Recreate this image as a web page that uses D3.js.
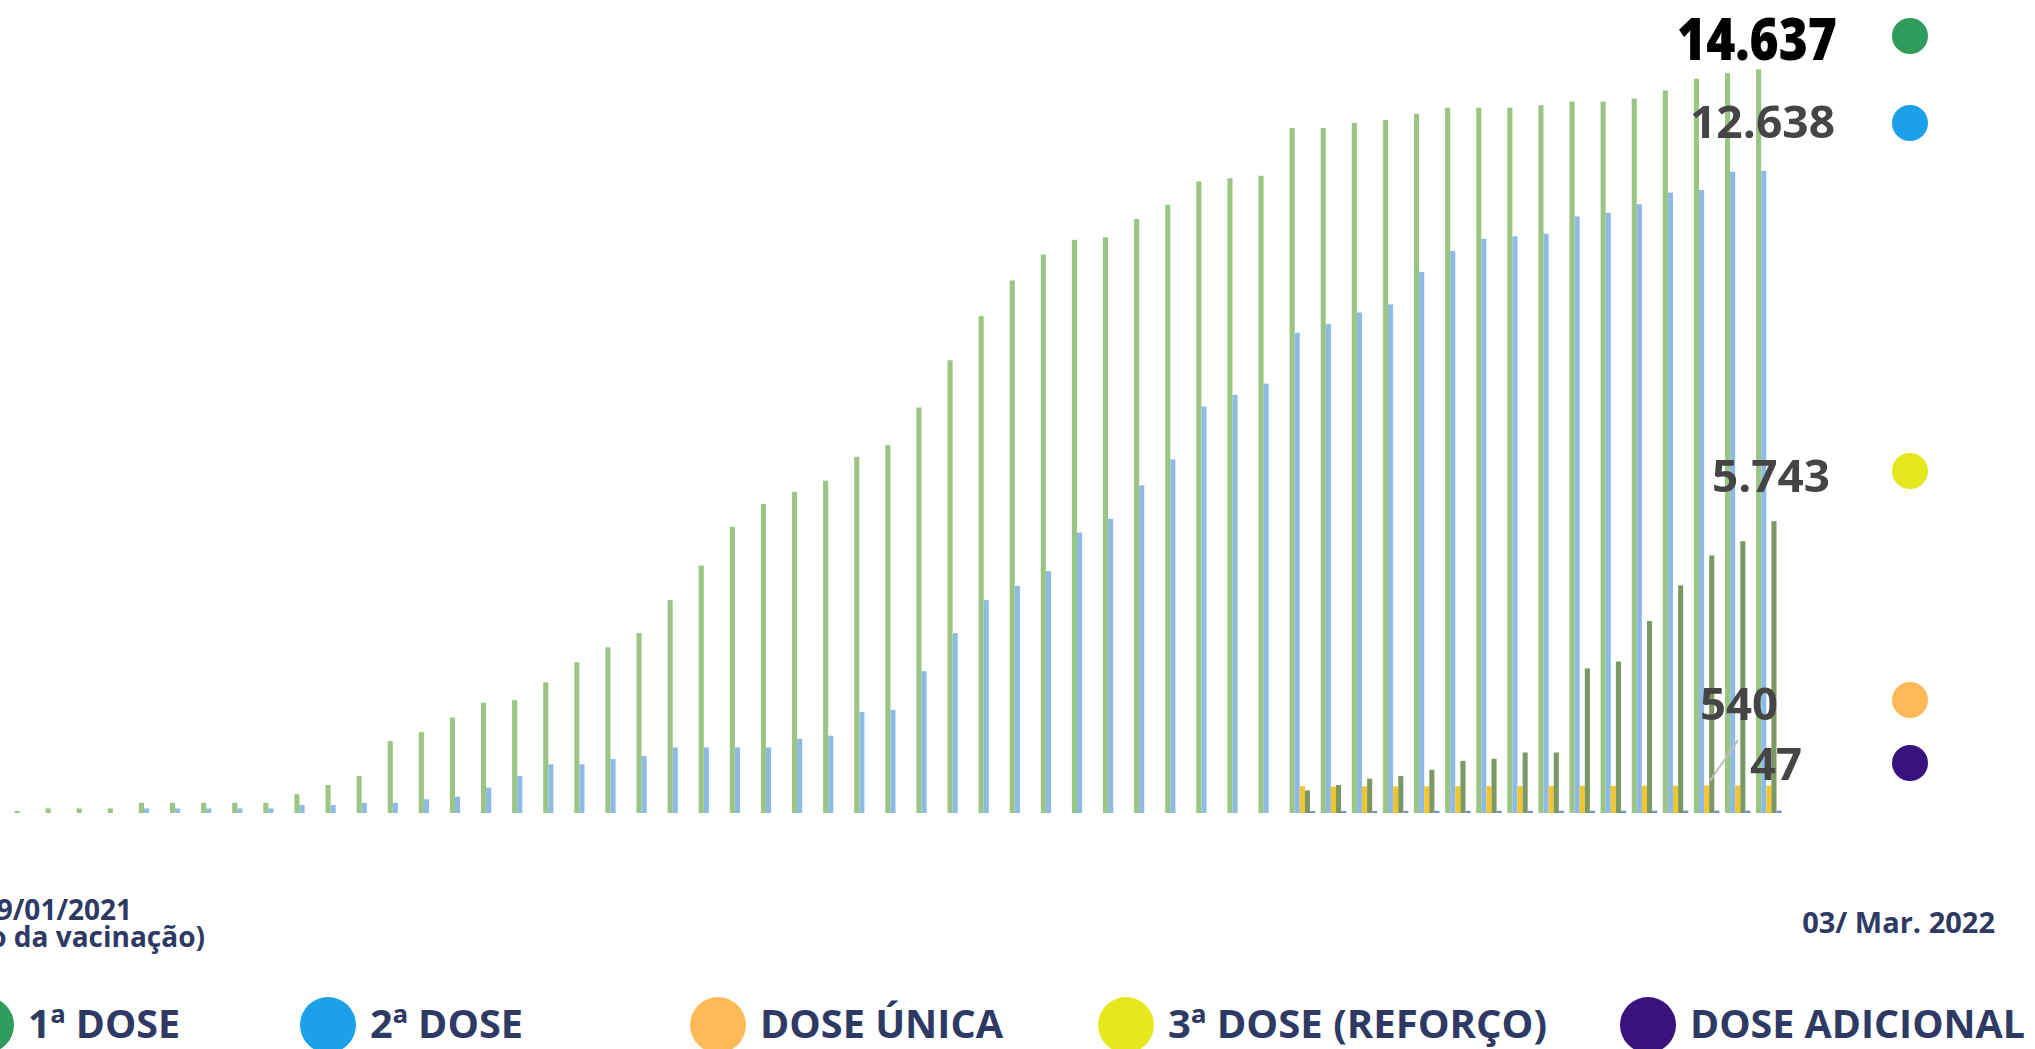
<!DOCTYPE html>
<html>
<head>
<meta charset="utf-8">
<script src="https://cdn.jsdelivr.net/npm/d3@7"></script>
<style>
  html, body { margin: 0; padding: 0; background: #fff; overflow: hidden; }
  text { font-family: "Open Sans", "DejaVu Sans", sans-serif; }
</style>
</head>
<body>
<svg id="chart" width="2035" height="1049"></svg>
<script>
// ---- data (doses, cumulative, one value per period) ----
var semanas = d3.range(1, 58).map(function(i) { return "S" + i; });

var primeiraDose = [40, 90, 90, 90, 200, 200, 200, 200, 200, 370,
  550, 730, 1415, 1590, 1880, 2170, 2220, 2570, 2965, 3260,
  3540, 4190, 4870, 5630, 6080, 6320, 6540, 7010, 7240, 7980,
  8910, 9780, 10480, 10990, 11280, 11330, 11690, 11970, 12430, 12490,
  12540, 13480, 13480, 13580, 13640, 13760, 13880, 13880, 13880, 13930,
  14000, 14000, 14060, 14220, 14450, 14560, 14637];

var segundaDose = [0, 0, 0, 0, 90, 90, 90, 90, 90, 157,
  157, 200, 200, 270, 320, 500, 727, 957, 957, 1060,
  1120, 1290, 1290, 1290, 1290, 1460, 1520, 1990, 2030, 2790,
  3540, 4190, 4470, 4760, 5520, 5790, 6450, 6960, 8000, 8230,
  8450, 9450, 9620, 9850, 10010, 10650, 11060, 11300, 11350, 11400,
  11740, 11810, 11980, 12210, 12260, 12620, 12638];

// these three start at period 42
var inicioNovas = 41;
var doseUnica = [530, 520, 522, 525, 527, 528, 530, 531, 532, 533, 534, 535, 536, 538, 539, 540];
var terceiraDose = [446, 550, 674, 727, 849, 1026, 1067, 1191, 1191, 2846, 2980, 3778, 4480, 5070, 5349, 5743];
var doseAdicional = [38, 40, 40, 41, 42, 42, 43, 43, 44, 44, 45, 45, 46, 46, 47, 47];

var serieNomes = ["1ª DOSE", "2ª DOSE", "DOSE ÚNICA", "3ª DOSE (REFORÇO)", "DOSE ADICIONAL"];
var corBarra = ["#9bc582", "#8dbbe4", "#f3c530", "#7b9964", "#6f93c6"];
var corLegenda = ["#2f9c5b", "#1ca0ea", "#ffb957", "#e5e81e", "#38137d"];

var rotulos = [
  {txt: "14.637", v: 0, x: 1837, y: 60, size: 58, w: 160, cor: "#000", peso: 800},
  {txt: "12.638", v: 1, x: 1835, y: 138, size: 45, w: 145, cor: "#454545", peso: 700},
  {txt: "5.743",  v: 3, x: 1830, y: 492, size: 45, w: 118, cor: "#454545", peso: 700},
  {txt: "540",    v: 2, x: 1778, y: 720, size: 45, w: 78,  cor: "#454545", peso: 700},
  {txt: "47",     v: 4, x: 1802, y: 780, size: 45, w: 52,  cor: "#454545", peso: 700}
];
var pontoY = [36, 123, 700, 471, 763];

// ---- build ----
var svg = d3.select("#chart");

var defs = svg.append("defs");
defs.append("filter").attr("id", "suave")
  .append("feGaussianBlur").attr("stdDeviation", 0.7);

function preencher(arr) {
  var out = semanas.map(function() { return 0; });
  arr.forEach(function(v, i) { out[inicioNovas + i] = v; });
  return out;
}
var series = [primeiraDose, segundaDose, preencher(doseUnica), preencher(terceiraDose), preencher(doseAdicional)];

var x0 = d3.scaleBand().domain(semanas).range([14.5, 1781.6]).paddingInner(0.18).paddingOuter(0);
var x1 = d3.scaleBand().domain(d3.range(5)).range([0, x0.bandwidth()]);
var y = d3.scaleLinear().domain([0, 16000]).range([813, 0]);

var grupos = svg.append("g").attr("class", "barras");
series.forEach(function(vals, s) {
  grupos.append("g")
    .attr("fill", corBarra[s])
    .selectAll("rect")
    .data(vals.map(function(v, i) { return {sem: semanas[i], v: v}; })
      .filter(function(d) { return d.v > 0; }))
    .enter().append("rect")
      .attr("x", function(d) { return x0(d.sem) + x1(s); })
      .attr("width", x1.bandwidth())
      .attr("y", function(d) { return y(d.v); })
      .attr("height", function(d) { return y(0) - y(d.v); });
});

// leader line for the small values
svg.append("line")
  .attr("x1", 1710).attr("y1", 781).attr("x2", 1738).attr("y2", 740)
  .attr("stroke", "#bdbdbd").attr("stroke-width", 2);

// value labels + colour dots at right
rotulos.forEach(function(r) {
  svg.append("text")
    .attr("x", r.x).attr("y", r.y)
    .attr("text-anchor", "end")
    .attr("font-size", r.size)
    .attr("font-weight", r.peso)
    .attr("fill", r.cor)
    .attr("textLength", r.w)
    .attr("lengthAdjust", "spacingAndGlyphs")
    .attr("filter", r.v === 0 ? null : "url(#suave)")
    .text(r.txt);
});
svg.selectAll("circle.ponto")
  .data(corLegenda)
  .enter().append("circle")
    .attr("class", "ponto")
    .attr("cx", 1910)
    .attr("cy", function(d, i) { return pontoY[i]; })
    .attr("r", 18)
    .attr("fill", function(d) { return d; });

// dates under the chart
var navy = "#2e3a64";
svg.append("text").attr("x", 132).attr("y", 920).attr("text-anchor", "end")
  .attr("font-size", 28).attr("font-weight", 700).attr("fill", navy)
  .text("19/01/2021");
svg.append("text").attr("x", 205).attr("y", 947).attr("text-anchor", "end")
  .attr("font-size", 28).attr("font-weight", 700).attr("fill", navy)
  .text("(início da vacinação)");
svg.append("text").attr("x", 1995).attr("y", 933).attr("text-anchor", "end")
  .attr("font-size", 29).attr("font-weight", 700).attr("fill", navy)
  .text("03/ Mar. 2022");

// legend
var legX = [-14, 328, 718, 1126, 1648];
var legW = [152, 153, 243, 379, 335];
var leg = svg.append("g").attr("class", "legenda");
serieNomes.forEach(function(nome, i) {
  leg.append("circle").attr("cx", legX[i]).attr("cy", 1025).attr("r", 28).attr("fill", corLegenda[i]);
  leg.append("text")
    .attr("x", legX[i] + 42).attr("y", 1038)
    .attr("font-size", 39).attr("font-weight", 700).attr("fill", navy)
    .attr("textLength", legW[i]).attr("lengthAdjust", "spacingAndGlyphs")
    .text(nome);
});
</script>
</body>
</html>
